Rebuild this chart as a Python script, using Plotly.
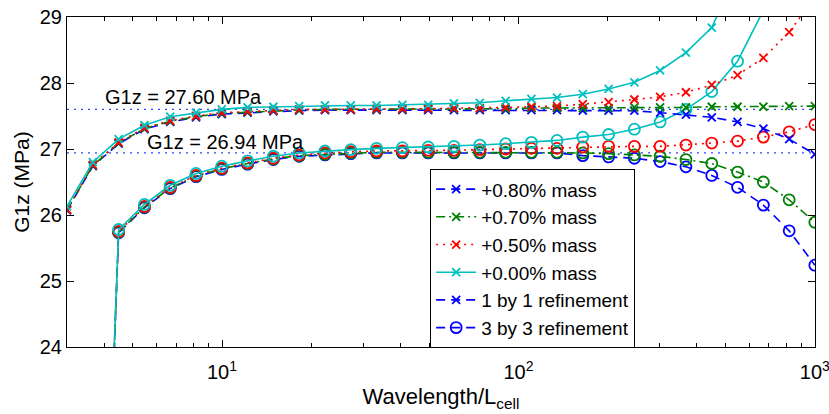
import plotly.graph_objects as go

# ---------------- data ----------------
wavelength = [3.000, 3.666, 4.480, 5.474, 6.689, 8.174, 9.980, 12.195, 14.902, 18.210,
              22.252, 27.192, 33.228, 40.604, 49.617, 60.632, 74.091, 90.538, 110.64, 134.93,
              164.87, 201.47, 246.16, 300.66, 367.41, 448.96, 548.62, 670.40, 819.21, 1000.0]

# 1 by 1 refinement (x markers)
g1_1x1_080 = [26.07, 26.74, 27.08, 27.30, 27.41, 27.48, 27.53, 27.55, 27.57, 27.58,
              27.59, 27.59, 27.59, 27.59, 27.59, 27.59, 27.59, 27.59, 27.59, 27.59,
              27.58, 27.58, 27.58, 27.55, 27.52, 27.48, 27.41, 27.31, 27.15, 26.92]
g1_1x1_070 = [26.08, 26.75, 27.09, 27.31, 27.42, 27.49, 27.54, 27.56, 27.58, 27.59,
              27.60, 27.60, 27.60, 27.60, 27.61, 27.61, 27.61, 27.61, 27.62, 27.62,
              27.62, 27.62, 27.63, 27.63, 27.63, 27.64, 27.64, 27.64, 27.65, 27.65]
g1_1x1_050 = [26.08, 26.76, 27.10, 27.32, 27.43, 27.50, 27.55, 27.57, 27.59, 27.60,
              27.60, 27.60, 27.61, 27.61, 27.61, 27.62, 27.62, 27.63, 27.64, 27.65,
              27.68, 27.71, 27.75, 27.79, 27.86, 27.97, 28.12, 28.38, 28.77, 29.30]
g1_1x1_000 = [26.13, 26.80, 27.15, 27.36, 27.49, 27.55, 27.60, 27.63, 27.64, 27.65,
              27.66, 27.66, 27.66, 27.67, 27.67, 27.69, 27.70, 27.73, 27.76, 27.78,
              27.83, 27.91, 28.01, 28.19, 28.46, 28.84, 29.70, 30.80, 32.40, 35.00]

# 3 by 3 refinement (circle markers), starting at the second wavelength
wavelength_3x3 = wavelength[1:]
g1_3x3_080 = [15.30, 25.73, 26.11, 26.40, 26.58, 26.69, 26.77, 26.84, 26.89, 26.91,
              26.93, 26.94, 26.94, 26.94, 26.94, 26.94, 26.94, 26.94, 26.94, 26.90,
              26.88, 26.86, 26.81, 26.73, 26.60, 26.42, 26.15, 25.76, 25.24]
g1_3x3_070 = [15.30, 25.74, 26.12, 26.41, 26.59, 26.70, 26.78, 26.85, 26.90, 26.92,
              26.94, 26.95, 26.95, 26.95, 26.95, 26.95, 26.95, 26.95, 26.95, 26.94,
              26.93, 26.91, 26.89, 26.84, 26.78, 26.65, 26.50, 26.23, 25.89]
g1_3x3_050 = [15.30, 25.75, 26.13, 26.42, 26.60, 26.71, 26.79, 26.86, 26.91, 26.94,
              26.96, 26.97, 26.97, 26.98, 26.98, 26.99, 27.00, 27.01, 27.01, 27.03,
              27.04, 27.04, 27.04, 27.06, 27.09, 27.12, 27.18, 27.26, 27.37]
g1_3x3_000 = [15.40, 25.78, 26.16, 26.45, 26.63, 26.74, 26.82, 26.89, 26.94, 26.97,
              26.99, 27.01, 27.02, 27.03, 27.04, 27.06, 27.08, 27.10, 27.13, 27.18,
              27.22, 27.30, 27.41, 27.60, 27.87, 28.33, 29.10, 30.20, 31.80]

mass_labels = ["+0.80% mass", "+0.70% mass", "+0.50% mass", "+0.00% mass"]
refinement_labels = ["1 by 1 refinement", "3 by 3 refinement"]
ref_values = [27.60, 26.94]
ref_labels = ["G1z = 27.60 MPa", "G1z = 26.94 MPa"]
x_range = [3, 1000]
y_range = [24, 29]
x_tickvals = [10, 100, 1000]
x_ticktext = ["10<sup>1</sup>", "10<sup>2</sup>", "10<sup>3</sup>"]
x_minor = [3, 4, 5, 6, 7, 8, 9, 20, 30, 40, 50, 60, 70, 80, 90,
           200, 300, 400, 500, 600, 700, 800, 900]
y_tickvals = [24, 25, 26, 27, 28, 29]

# ---------------- styles ----------------
FONT = "Liberation Sans, Arial, Helvetica, sans-serif"
FS = 20
LEG_FS = 19
colors = ["#0000FF", "#008000", "#FF0000", "#00BFBF"]
dashes = ["9px,6px", "9px,4px,2px,4px", "2px,5px", "solid"]
LW = 1.6

fig = go.Figure()

# reference dotted lines
for v in ref_values:
    fig.add_trace(go.Scatter(x=x_range, y=[v, v], mode="lines",
                             line=dict(color="#3344FF", width=1.3, dash="2px,5px"),
                             showlegend=False, hoverinfo="skip"))

series_1x1 = [g1_1x1_080, g1_1x1_070, g1_1x1_050, g1_1x1_000]
series_3x3 = [g1_3x3_080, g1_3x3_070, g1_3x3_050, g1_3x3_000]

for i, ys in enumerate(series_3x3):
    fig.add_trace(go.Scatter(
        x=wavelength_3x3, y=ys, mode="lines+markers",
        line=dict(color=colors[i], width=LW, dash=dashes[i]),
        marker=dict(symbol="circle-open", size=11, color=colors[i],
                    line=dict(width=1.8, color=colors[i])),
        showlegend=False))

for i, ys in enumerate(series_1x1):
    fig.add_trace(go.Scatter(
        x=wavelength, y=ys, mode="lines+markers", name=mass_labels[i],
        line=dict(color=colors[i], width=LW, dash=dashes[i]),
        marker=dict(symbol="x-thin-open", size=8, color=colors[i],
                    line=dict(width=1.8, color=colors[i])),
        legendrank=i + 1))

# legend-only entries for refinement
fig.add_trace(go.Scatter(
    x=[None], y=[None], mode="lines+markers", name=refinement_labels[0],
    line=dict(color=colors[0], width=LW, dash=dashes[0]),
    marker=dict(symbol="x-thin-open", size=8, color=colors[0],
                line=dict(width=1.8, color=colors[0])),
    legendrank=5))
fig.add_trace(go.Scatter(
    x=[None], y=[None], mode="lines+markers", name=refinement_labels[1],
    line=dict(color=colors[0], width=LW, dash=dashes[0]),
    marker=dict(symbol="circle-open", size=11, color=colors[0],
                line=dict(width=1.8, color=colors[0])),
    legendrank=6))

# annotations
fig.add_annotation(x=0.598, y=27.795, xref="x", yref="y", text=ref_labels[0],
                   showarrow=False, xanchor="left", yanchor="middle",
                   font=dict(family=FONT, size=FS, color="black"))
fig.add_annotation(x=0.740, y=27.11, xref="x", yref="y", text=ref_labels[1],
                   showarrow=False, xanchor="left", yanchor="middle",
                   font=dict(family=FONT, size=FS, color="black"))

axis_common = dict(showline=True, linecolor="black", linewidth=1, mirror="ticks",
                   ticks="inside", ticklen=7, tickcolor="black", showgrid=False,
                   zeroline=False, automargin=False, ticklabeloverflow="allow",
                   tickfont=dict(family=FONT, size=FS, color="black"))

fig.update_xaxes(type="log", range=[0.47712, 3.0005], tickvals=x_tickvals, ticktext=x_ticktext,
                 ticklabelstandoff=7,
                 minor=dict(tickvals=x_minor, ticks="inside", ticklen=4, tickcolor="black",
                            showgrid=False),
                 title=dict(text="Wavelength/L<sub>cell</sub>",
                            font=dict(family=FONT, size=22, color="black"), standoff=6),
                 **axis_common)
fig.update_yaxes(range=y_range, tickvals=y_tickvals,
                 title=dict(text="G1z (MPa)", font=dict(family=FONT, size=21, color="black"),
                            standoff=4),
                 **axis_common)

fig.update_layout(
    template="none",
    width=829, height=414,
    margin=dict(l=67, r=14, t=17, b=67),
    plot_bgcolor="white", paper_bgcolor="white",
    font=dict(family=FONT, size=FS, color="black"),
    legend=dict(x=0.4855, y=0.5386, xanchor="left", yanchor="top",
                bgcolor="white", bordercolor="black", borderwidth=1,
                font=dict(family=FONT, size=LEG_FS, color="black"),
                itemwidth=40, tracegroupgap=0),
)

fig.write_html("out.html", config={"displayModeBar": False},
               post_script="document.body.style.margin='0';document.body.style.padding='0';")
